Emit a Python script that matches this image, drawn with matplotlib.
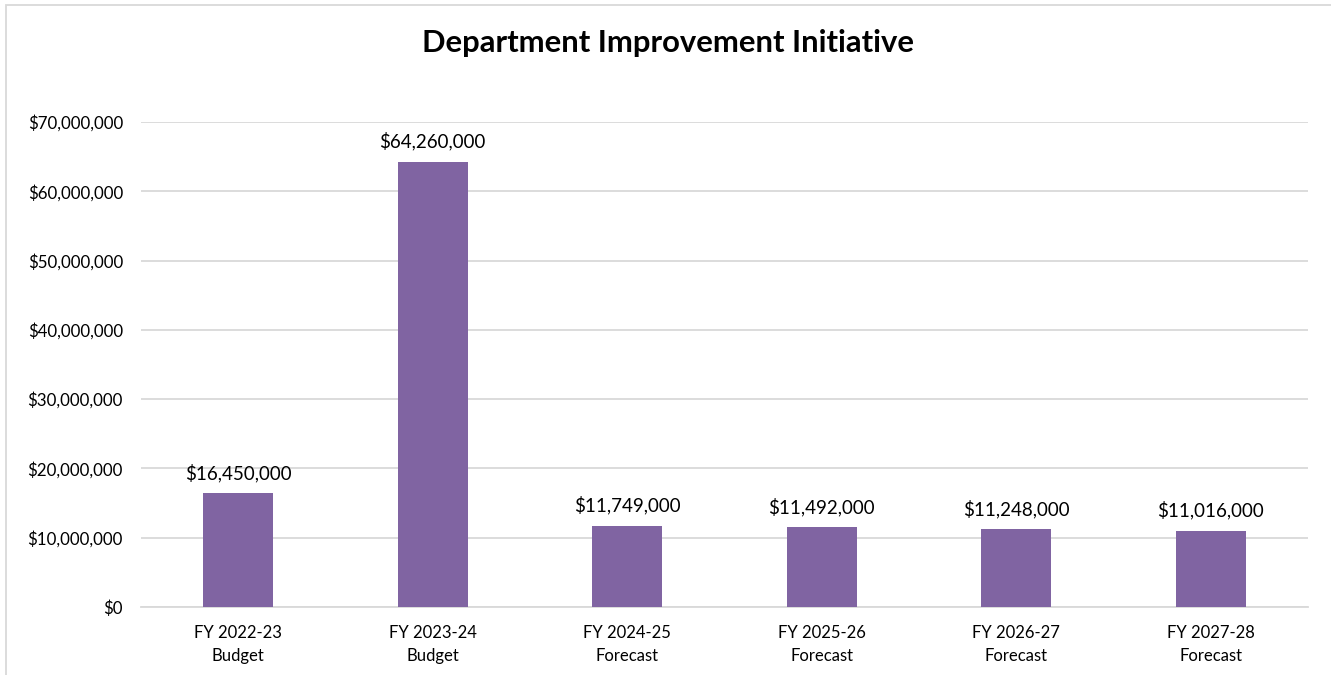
import matplotlib.pyplot as plt
from matplotlib.patches import Rectangle
from matplotlib.ticker import FuncFormatter

plt.rcParams['font.family'] = ['Lato', 'DejaVu Sans']

# chart data
categories = ["FY 2022-23\nBudget", "FY 2023-24\nBudget", "FY 2024-25\nForecast",
              "FY 2025-26\nForecast", "FY 2026-27\nForecast", "FY 2027-28\nForecast"]
values = [16450000, 64260000, 11749000, 11492000, 11248000, 11016000]
y_ticks = [0, 10000000, 20000000, 30000000, 40000000, 50000000, 60000000, 70000000]

bar_color = "#8064A2"
grid_color = "#D9D9D9"

fig = plt.figure(figsize=(13.31, 6.75), dpi=100)
ax = fig.add_axes([0.1059, 0.1007, 0.8768, 0.7185])

x = list(range(len(categories)))
bars = ax.bar(x, values, width=0.36, color=bar_color, zorder=3)

# value labels above bars
for xi, v in zip(x, values):
    ax.annotate(f"${v:,.0f}", (xi, v), xytext=(0, 8), textcoords="offset points",
                ha="center", va="bottom", fontsize=13.5, color="black")

ax.set_xlim(-0.5, len(categories) - 0.5)
ax.set_ylim(0, 70000000)
ax.set_yticks(y_ticks)
ax.yaxis.set_major_formatter(FuncFormatter(lambda v, _: f"${v:,.0f}"))
ax.set_xticks(x)
ax.set_xticklabels(categories, fontsize=12, linespacing=1.55)
ax.tick_params(axis="y", labelsize=12.2, length=0, pad=13)
ax.tick_params(axis="x", length=0, pad=13)

ax.grid(axis="y", color=grid_color, linewidth=1.3, zorder=0)
for side in ["top", "right", "left"]:
    ax.spines[side].set_visible(False)
ax.spines["bottom"].set_color(grid_color)
ax.spines["bottom"].set_linewidth(1.3)

fig.text(0.502, 0.937, "Department Improvement Initiative", ha="center", va="center",
         fontsize=22.3, fontweight="bold")

# chart area border (cropped at right and bottom)
fig.patches.append(Rectangle((6 / 1331, -0.05), 1.1, 1.05 - 5 / 675,
                             transform=fig.transFigure, fill=False,
                             edgecolor="#D9D9D9", linewidth=1.3))

fig.savefig("out.png", dpi=100)
plt.close(fig)
